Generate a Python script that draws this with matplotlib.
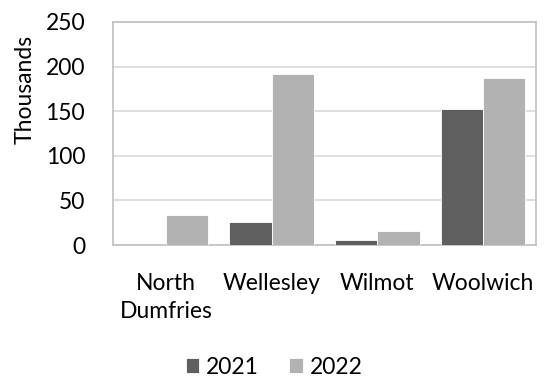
import matplotlib.pyplot as plt
import numpy as np

# Values in thousands
townships = ['North\nDumfries', 'Wellesley', 'Wilmot', 'Woolwich']
values_2021 = [0, 25.5, 5.6, 152]
values_2022 = [33.5, 192, 15.7, 187]
y_ticks = [0, 50, 100, 150, 200, 250]

plt.rcParams['font.family'] = ['Lato', 'DejaVu Sans']
fs = 16.5

fig = plt.figure(figsize=(5.44, 3.80), dpi=100)
ax = fig.add_axes([113 / 544, 1 - 245 / 380, 423 / 544, 223 / 380])

x = np.arange(len(townships))
w = 0.4
ax.bar(x - w / 2, values_2021, width=w, color='#5f5f5f', edgecolor='white', linewidth=0.6, label='2021', zorder=3)
ax.bar(x + w / 2, values_2022, width=w, color='#b2b2b2', edgecolor='white', linewidth=0.6, label='2022', zorder=3)

ax.set_xlim(-0.5, len(townships) - 0.5)
ax.set_ylim(0, 250)
ax.set_yticks(y_ticks)
ax.set_yticklabels([str(t) for t in y_ticks], fontsize=fs)
ax.set_xticks(x)
ax.set_xticklabels(townships, fontsize=fs, linespacing=1.45)
ax.tick_params(axis='both', length=0, colors='black')
ax.tick_params(axis='y', pad=20)
ax.tick_params(axis='x', pad=20)

ax.grid(axis='y', color='#d9d9d9', linewidth=1.2, zorder=0)
for s in ax.spines.values():
    s.set_color('#bfbfbf')
    s.set_linewidth(1.2)

fig.text(25 / 544, 1 - 89 / 380, 'Thousands', rotation=90, ha='center', va='center', fontsize=fs)

fig.legend(loc='center', bbox_to_anchor=(274 / 544, 1 - 367 / 380), ncol=2, frameon=False,
           fontsize=fs, handlelength=0.6, handleheight=0.6, handletextpad=0.3, columnspacing=1.3)

plt.savefig('out.png', dpi=100)
plt.close()
